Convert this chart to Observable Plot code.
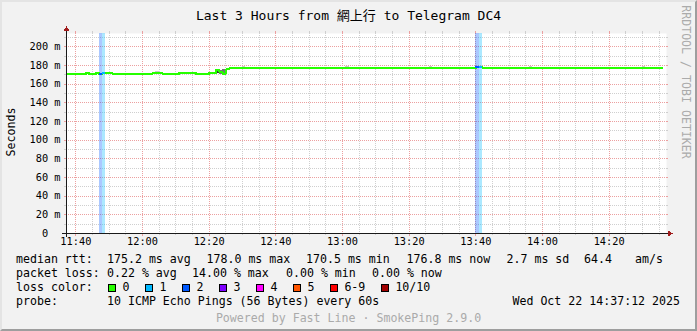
<!DOCTYPE html>
<html>
<head>
<meta charset="utf-8">
<script src="https://cdn.jsdelivr.net/npm/d3@7"></script>
<script src="https://cdn.jsdelivr.net/npm/@observablehq/plot@0.6"></script>
<style>
html,body{margin:0;padding:0;background:#f2f2f2;}
#chart{position:relative;width:697px;height:331px;background:#f2f2f2;overflow:hidden;font-family:"DejaVu Sans Mono","Noto Sans CJK TC",monospace;}
#chart svg{position:absolute;left:0;top:0;}
#frame{position:absolute;left:0;top:0;width:697px;height:331px;box-sizing:border-box;border-style:solid;border-width:2px;border-color:#e4e4e4 #9e9e9e #9e9e9e #e4e4e4;pointer-events:none;}
.t{position:absolute;white-space:pre;color:#000;}
.box{position:absolute;width:8px;height:8px;box-sizing:border-box;border:1px solid #000;}
</style>
</head>
<body>
<div id="chart"></div>
<script>
// ---------------- data ----------------
const titleText = "Last 3 Hours from 網上行 to Telegram DC4";
const yAxisTitle = "Seconds";
const watermark = "RRDTOOL / TOBI OETIKER";
const endStamp = [2025, 9, 22, 14, 37, 12];   // Wed Oct 22 14:37:12 2025
const rangeHours = 3;
const yMaxMs = 214.3;

const xTickLabels = ["11:40","12:00","12:20","12:40","13:00","13:20","13:40","14:00","14:20"];
const yTickValues = [0, 20, 40, 60, 80, 100, 120, 140, 160, 180, 200];
const yTickLabels = ["0\u00a0\u00a0","20 m","40 m","60 m","80 m","100 m","120 m","140 m","160 m","180 m","200 m"];
const yMinorValues = [10, 30, 50, 70, 90, 110, 130, 150, 170, 190, 210];

// median rtt (ms) as steps starting at each time, with packets lost (of 10)
const medianTimes = ["11:37","11:43","11:44","11:46","11:47","11:48","11:49","11:51","12:03","12:06","12:11","12:16","12:20","12:22","12:23","12:24","12:25","12:26","13:40","13:41","13:42","14:36"];
const medianMs    = [170.7, 171.7, 170.7, 171.7, 170.8, 171.7, 171.7, 170.7, 171.7, 170.7, 171.7, 170.7, 171.7, 175.5, 173.5, 171.2, 175.8, 177.0, 178.0, 178.0, 177.0, 177.0];
const medianLoss  = [0, 0, 0, 0, 2, 1, 0, 0, 0, 0, 0, 0, 0, 0, 0, 0, 0, 0, 2, 1, 0, 0];

// smoke (ping spread) for a few one-minute steps
const smokeTimes = ["12:04","12:22","12:23","12:24","12:30","13:01","13:26","13:56","14:30"];
const smokeLoMs  = [171.7, 171.0, 170.5, 171.8, 177.0, 177.0, 177.0, 177.0, 177.0];
const smokeHiMs  = [173.6, 176.2, 174.2, 175.6, 179.0, 179.0, 179.0, 179.0, 179.0];

const lossLabels = ["0","1","2","3","4","5","6-9","10/10"];
const lossColors = ["#26ff00","#00b8ff","#0059ff","#7e00ff","#ff00ff","#ff5500","#ff0000","#a00000"];

const rttStats  = ["175.2 ms avg","178.0 ms max","170.5 ms min","176.8 ms now","2.7 ms sd","64.4","am/s"];
const lossStats = ["0.22 % avg","14.00 % max","0.00 % min","0.00 % now"];
const probeText = "10 ICMP Echo Pings (56 Bytes) every 60s";
const stampText = "Wed Oct 22 14:37:12 2025";
const poweredText = "Powered by Fast Line · SmokePing 2.9.0";

// ---------------- build ----------------
const end = new Date(...endStamp.slice(0,3), ...endStamp.slice(3));
const start = new Date(+end - rangeHours * 3600e3);
const parse = s => { const [h, m] = s.split(":").map(Number); return new Date(endStamp[0], endStamp[1], endStamp[2], h, m, 0); };

const median = medianTimes.map((t, i) => ({t: parse(t), v: medianMs[i], loss: medianLoss[i]}));
const segs = median.slice(0, -1).map((d, i) => ({...d, t2: median[i + 1].t}));
const lossSegs = segs.filter(d => d.loss > 0);
const smoke = smokeTimes.map((t, i) => ({t1: parse(t), t2: new Date(+parse(t) + 60e3), lo: smokeLoMs[i], hi: smokeHiMs[i]}));
const shade = d3.scaleLinear().domain([2, 5]).range(["#c8c8c8", "#3a3a3a"]).clamp(true);

const majorX = xTickLabels.map(parse);
const xLabelMap = new Map(majorX.map((d, i) => [+d, xTickLabels[i]]));
const minorX = d3.timeMinute.every(5).range(start, end).filter(d => d.getMinutes() % 20 !== 0);
const yLabelMap = new Map(yTickValues.map((v, i) => [v, yTickLabels[i]]));

const GRID = "#cfcfcf", MGRID = "#eca0a0", AXIS = "#1a1a1a", ARROW = "#a01c1c";

const plot = Plot.plot({
  width: 697, height: 252,
  marginLeft: 66, marginRight: 31, marginTop: 33, marginBottom: 19,
  style: {background: "transparent", fontFamily: "'DejaVu Sans Mono', monospace", fontSize: "10.3px", color: "#000", overflow: "visible"},
  x: {type: "time", domain: [start, end]},
  y: {domain: [0, yMaxMs]},
  marks: [
    Plot.frame({fill: "#ffffff", stroke: "none"}),
    Plot.ruleX(minorX, {stroke: GRID, strokeDasharray: "1,1", shapeRendering: "crispEdges"}),
    Plot.ruleY(yMinorValues, {stroke: GRID, strokeDasharray: "1,1", shapeRendering: "crispEdges"}),
    Plot.ruleX(majorX, {stroke: MGRID, strokeDasharray: "1,1", shapeRendering: "crispEdges"}),
    Plot.ruleY(yTickValues.filter(v => v > 0), {stroke: MGRID, strokeDasharray: "1,1", shapeRendering: "crispEdges"}),
    Plot.rect(lossSegs, {x1: "t", x2: "t2", y1: 0, y2: yMaxMs, fill: d => lossColors[d.loss], fillOpacity: 0.33, shapeRendering: "crispEdges"}),
    Plot.rect(smoke, {x1: "t1", x2: "t2", y1: "lo", y2: "hi", fill: d => shade(d.hi - d.lo), shapeRendering: "crispEdges"}),
    Plot.line(median, {x: "t", y: "v", curve: "step-after", stroke: lossColors[0], strokeWidth: 2, clip: true, shapeRendering: "crispEdges"}),
    Plot.ruleY(lossSegs, {x1: "t", x2: "t2", y: "v", stroke: d => lossColors[d.loss], strokeWidth: 2, shapeRendering: "crispEdges"}),
    Plot.axisX(majorX, {tickSize: 0, tickPadding: 4, tickFormat: d => xLabelMap.get(+d), label: null}),
    Plot.axisY(yTickValues, {tickSize: 0, tickPadding: 6, tickFormat: d => yLabelMap.get(d), label: null})
  ]
});

const chart = document.getElementById("chart");
chart.appendChild(plot);

// axis lines, arrows and small grid ticks (rrdtool style), from the plot's scales
const sx = plot.scale("x"), sy = plot.scale("y");
const X0 = Math.round(sx.apply(start)), X1 = Math.round(sx.apply(end));
const Y0 = Math.round(sy.apply(0)), Y1 = Math.round(sy.apply(yMaxMs));
const g = d3.select(plot).append("g").attr("shape-rendering", "crispEdges");
const seg = (x1, y1, x2, y2, c) => g.append("line").attr("x1", x1).attr("y1", y1).attr("x2", x2).attr("y2", y2).attr("stroke", c);
minorX.forEach(d => { const x = Math.round(sx.apply(d)) + 0.5; seg(x, Y1 - 2, x, Y1, GRID); seg(x, Y0, x, Y0 + 2, GRID); });
majorX.forEach(d => { const x = Math.round(sx.apply(d)) + 0.5; seg(x, Y1 - 2, x, Y1, MGRID); seg(x, Y0, x, Y0 + 3, MGRID); });
yMinorValues.forEach(v => { const y = Math.round(sy.apply(v)) + 0.5; seg(X0 - 2, y, X0, y, GRID); seg(X1, y, X1 + 2, y, GRID); });
yTickValues.filter(v => v > 0).forEach(v => { const y = Math.round(sy.apply(v)) + 0.5; seg(X0 - 2, y, X0, y, MGRID); seg(X1, y, X1 + 2, y, MGRID); });
seg(X0 - 4, Y0 + 0.5, X1 + 4, Y0 + 0.5, AXIS);
seg(X0 + 0.5, Y0 + 4, X0 + 0.5, Y1 - 4, AXIS);
g.append("polygon").attr("points", `${X1 + 2},${Y0 - 2.5} ${X1 + 2},${Y0 + 3.5} ${X1 + 7},${Y0 + 0.5}`).attr("fill", ARROW);
g.append("polygon").attr("points", `${X0 - 2.5},${Y1 - 2} ${X0 + 3.5},${Y1 - 2} ${X0 + 0.5},${Y1 - 7}`).attr("fill", ARROW);

// ---------------- text ----------------
function txt(s, x, cy, o = {}) {
  const d = document.createElement("div");
  d.className = "t"; d.textContent = s;
  const fs = o.size || 11.6, lh = Math.round(fs * 1.3);
  d.style.fontSize = fs + "px"; d.style.lineHeight = lh + "px";
  if (o.color) d.style.color = o.color;
  if (o.rotate) {
    d.style.left = x + "px"; d.style.top = cy + "px";
    d.style.transform = `translate(-50%,-50%) rotate(${o.rotate}deg)`;
  } else {
    d.style.top = (cy - lh / 2) + "px";
    if (o.anchor === "end") d.style.right = (697 - x) + "px";
    else if (o.anchor === "middle") { d.style.left = x + "px"; d.style.transform = "translateX(-50%)"; }
    else d.style.left = x + "px";
  }
  chart.appendChild(d);
  return d;
}

txt(titleText, 348.5, 15, {size: 13, anchor: "middle"});
txt(yAxisTitle, 10.5, 132, {rotate: -90});
txt(watermark, 685, 81.5, {rotate: 90, color: "#ababab"});

const L = 16;
txt("median rtt:", L, 259);
[107, 206.5, 306, 406.5, 506.5, 584, 635].forEach((x, i) => txt(rttStats[i], x, 259));
txt("packet loss:", L, 273);
[107, 192, 286, 372].forEach((x, i) => txt(lossStats[i], x, 273));
txt("loss color:", L, 287);
let bx = 108.4;
lossLabels.forEach((lab, i) => {
  const b = document.createElement("div");
  b.className = "box"; b.style.left = bx + "px"; b.style.top = "284px"; b.style.background = lossColors[i];
  chart.appendChild(b);
  txt(lab, bx + 14, 287);
  bx += 37 + 7 * (lab.length - 1);
});
txt("probe:", L, 301);
txt(probeText, 107, 301);
txt(stampText, 680, 301, {anchor: "end"});
txt(poweredText, 348.5, 318, {anchor: "middle", color: "#aaaaaa"});

const fr = document.createElement("div"); fr.id = "frame"; chart.appendChild(fr);
</script>
</body>
</html>
